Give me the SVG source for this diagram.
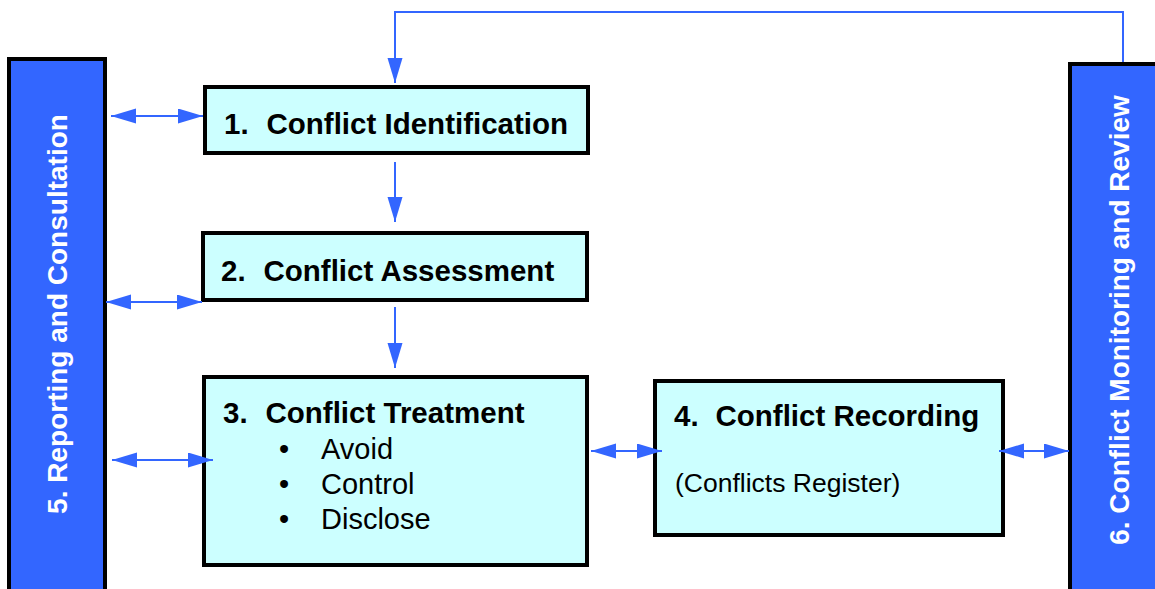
<svg xmlns="http://www.w3.org/2000/svg" width="1155" height="589" viewBox="0 0 1155 589">
<style>
.box{fill:#CCFFFF;stroke:#000;stroke-width:4}
.bar{fill:#3366FF;stroke:#000;stroke-width:4}
.h{font-family:"Liberation Sans",Arial,sans-serif;font-weight:bold;font-size:29.5px;fill:#000}
.r{font-family:"Liberation Sans",Arial,sans-serif;font-size:29px;fill:#000}
.v{font-family:"Liberation Sans",Arial,sans-serif;font-weight:bold;font-size:28px;fill:#fff;text-anchor:middle}
.c{fill:none;stroke:#3366FF;stroke-width:2}
</style>
<defs>
<marker id="ah" markerUnits="userSpaceOnUse" markerWidth="26" markerHeight="16" refX="25" refY="7.5" orient="auto-start-reverse" viewBox="0 0 26 16">
<path d="M0,0 L25,7.5 L0,15 z" fill="#3366FF"/>
</marker>
</defs>
<rect width="1155" height="589" fill="#fff"/>
<g id="n5">
<rect class="bar" x="9" y="59" width="96" height="540"/>
<text class="v" transform="translate(67,314) rotate(-90)">5. Reporting and Consultation</text>
</g>
<g id="n6">
<rect class="bar" x="1070" y="64" width="96" height="540"/>
<text class="v" transform="translate(1129,320) rotate(-90)">6. Conflict Monitoring and Review</text>
</g>
<g id="n1">
<rect class="box" x="205" y="87" width="383" height="66"/>
<text class="h" x="224" y="134">1.<tspan x="266.5">Conflict Identification</tspan></text>
</g>
<g id="n2">
<rect class="box" x="203" y="233" width="384" height="67"/>
<text class="h" x="221" y="281">2.<tspan x="263.5">Conflict Assessment</tspan></text>
</g>
<g id="n3">
<rect class="box" x="204" y="377" width="383" height="188"/>
<text class="h" x="223" y="423">3.<tspan x="265.5">Conflict Treatment</tspan></text>
<text class="r" text-anchor="middle" x="284" y="459">•</text>
<text class="r" text-anchor="middle" x="284" y="494">•</text>
<text class="r" text-anchor="middle" x="284" y="529">•</text>
<text class="r" x="321" y="459">Avoid</text>
<text class="r" x="321" y="494">Control</text>
<text class="r" x="321" y="529">Disclose</text>
</g>
<g id="n4">
<rect class="box" x="655" y="381" width="348" height="154"/>
<text class="h" x="674" y="426">4.<tspan x="715.5">Conflict Recording</tspan></text>
<text class="r" style="font-size:26.5px" x="675" y="492">(Conflicts Register)</text>
</g>
<g id="connectors">
<polyline class="c" points="1123,62 1123,12 395,12 395,83" marker-end="url(#ah)"/>
<line class="c" x1="395" y1="162" x2="395" y2="222" marker-end="url(#ah)"/>
<line class="c" x1="395" y1="307" x2="395" y2="368" marker-end="url(#ah)"/>
<line class="c" x1="111" y1="116" x2="203" y2="116" marker-start="url(#ah)" marker-end="url(#ah)"/>
<line class="c" x1="106" y1="302" x2="202" y2="302" marker-start="url(#ah)" marker-end="url(#ah)"/>
<line class="c" x1="112" y1="460" x2="213" y2="460" marker-start="url(#ah)" marker-end="url(#ah)"/>
<line class="c" x1="591" y1="451" x2="662" y2="451" marker-start="url(#ah)" marker-end="url(#ah)"/>
<line class="c" x1="999" y1="451" x2="1069" y2="451" marker-start="url(#ah)" marker-end="url(#ah)"/>
</g>
</svg>
